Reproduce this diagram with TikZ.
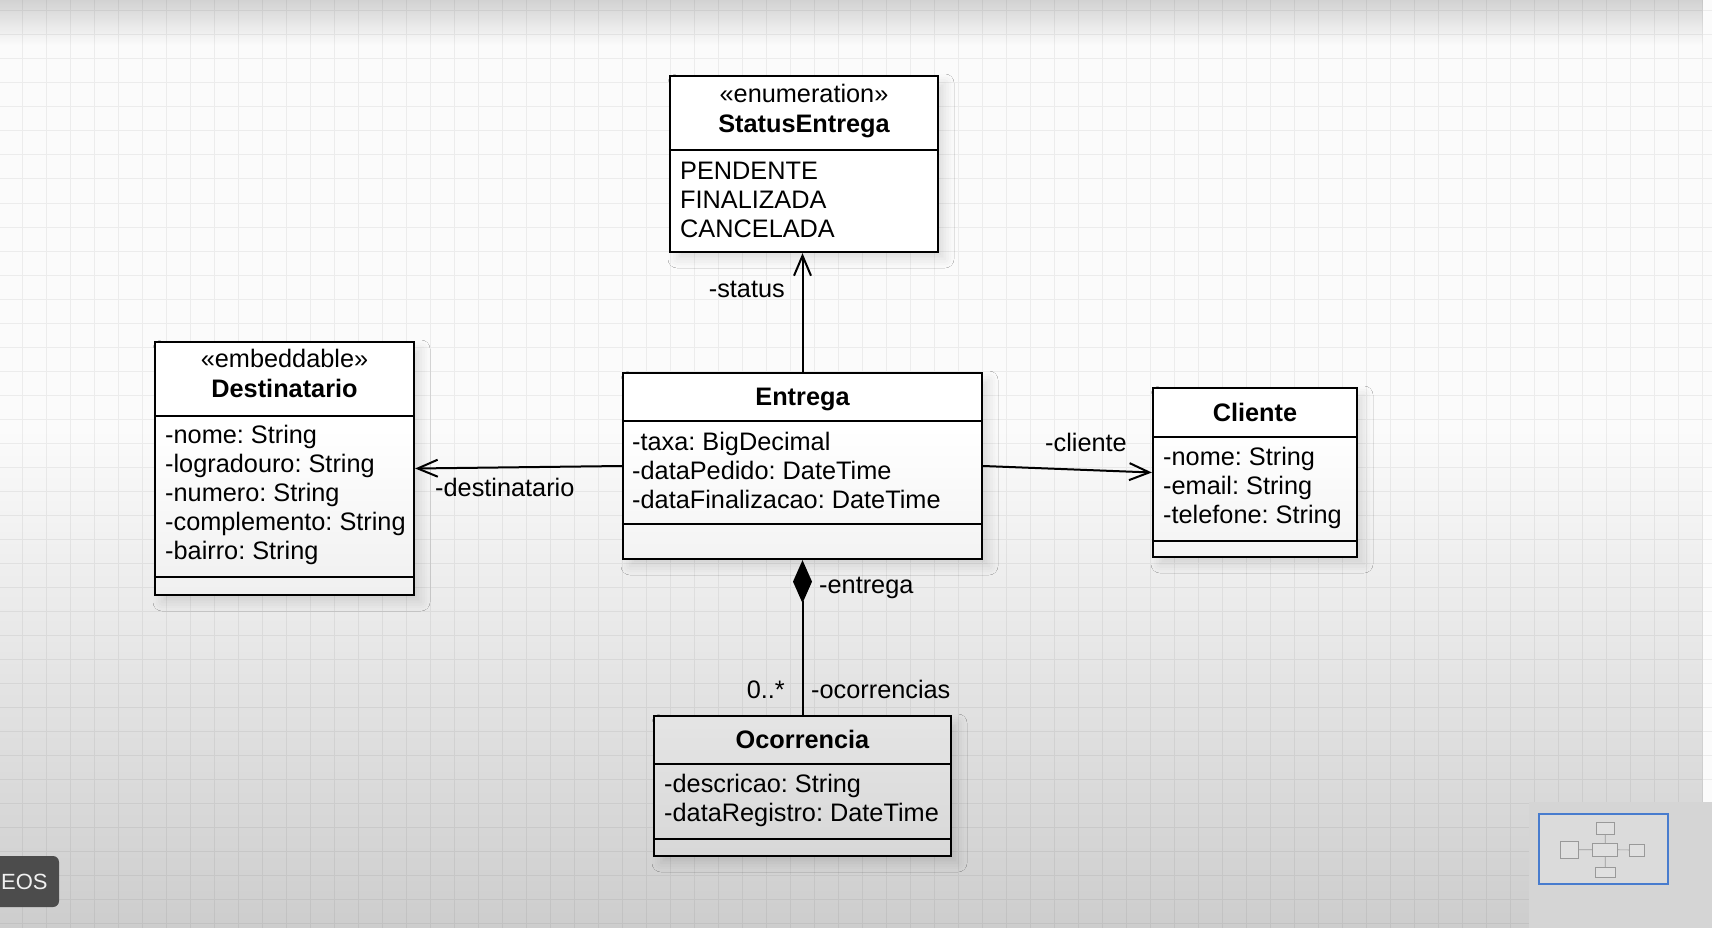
\documentclass[tikz,border=0pt]{standalone}
\usepackage{fontspec}
\setmainfont{Liberation Sans}
\usetikzlibrary{arrows.meta, shadows.blur, fadings}
\definecolor{paper}{RGB}{251,251,251}
\definecolor{gridgray}{RGB}{236,236,236}
\definecolor{eosgray}{RGB}{76,76,76}
\definecolor{minigray}{RGB}{213,213,213}
\definecolor{miniblue}{RGB}{72,124,206}
\frenchspacing

\tikzset{
  gridline/.style={gridgray, line width=1pt},
  classbox/.style={draw, line width=2.3pt, fill=white, inner sep=0pt,
    blur shadow={shadow xshift=7pt, shadow yshift=-7pt, shadow blur radius=9pt, shadow opacity=12}},
  divider/.style={line width=2pt},
  stereo/.style={anchor=base, inner sep=0pt},
  title/.style={anchor=base, inner sep=0pt, font=\fontsize{25.3}{29}\selectfont\bfseries},
  member/.style={anchor=base west, inner sep=0pt},
  role/.style={anchor=base west, inner sep=0pt},
  assoc/.style={line width=2pt, -{Straight Barb[length=20pt, width=17pt]}},
  compo/.style={line width=2pt, {Diamond[length=43pt, width=19pt]}-},
  minibox/.style={draw=gray!80, fill=white!88!black, line width=0.6pt}
}

\begin{document}
\begin{tikzpicture}[x=1pt, y=-1pt, font=\fontsize{25.3}{29}\selectfont]
\useasboundingbox (0,0) rectangle (1712,928);

%background
\fill[paper] (0,0) rectangle (1712,928);
\foreach \gx in {22,46,...,1702}
  \draw[gridline] (\gx,0) -- (\gx,928);
\foreach \gy in {11,35,...,923}
  \draw[gridline] (0,\gy) -- (1712,\gy);

%StatusEntrega
\node[classbox, minimum width=268pt, minimum height=176pt] (status) at (804,164) {};
\draw[divider] (status.west |- 0,150) -- (status.east |- 0,150);
\node[stereo] (status-st) at (804,103) {«enumeration»};
\node[title] (status-t) at (804,133) {StatusEntrega};
\foreach \m [count=\i] in {PENDENTE, FINALIZADA, CANCELADA}
  \node[member] (status-m\i) at (680,150+29*\i) {\m};

%Destinatario
\node[classbox, minimum width=259pt, minimum height=253pt] (destinatario) at (284.5,468.5) {};
\draw[divider] (destinatario.west |- 0,416) -- (destinatario.east |- 0,416);
\draw[divider] (destinatario.west |- 0,577) -- (destinatario.east |- 0,577);
\node[stereo] (destinatario-st) at (284.5,367) {«embeddable»};
\node[title] (destinatario-t) at (284.5,397) {Destinatario};
\foreach \m [count=\i] in {-nome: String, -logradouro: String, -numero: String, -complemento: String, -bairro: String}
  \node[member] (destinatario-m\i) at (165,414+29*\i) {\m};

%Entrega
\node[classbox, minimum width=359pt, minimum height=186pt] (entrega) at (802.5,466) {};
\draw[divider] (entrega.west |- 0,421) -- (entrega.east |- 0,421);
\draw[divider] (entrega.west |- 0,524) -- (entrega.east |- 0,524);
\node[title] (entrega-t) at (802.5,405) {Entrega};
\foreach \m [count=\i] in {-taxa: BigDecimal, -dataPedido: DateTime, -dataFinalizacao: DateTime}
  \node[member] (entrega-m\i) at (632,421+29*\i) {\m};

%Cliente
\node[classbox, minimum width=204pt, minimum height=169pt] (cliente) at (1255,472.5) {};
\draw[divider] (cliente.west |- 0,437) -- (cliente.east |- 0,437);
\draw[divider] (cliente.west |- 0,541) -- (cliente.east |- 0,541);
\node[title] (cliente-t) at (1255,421) {Cliente};
\foreach \m [count=\i] in {-nome: String, -email: String, -telefone: String}
  \node[member] (cliente-m\i) at (1163,436+29*\i) {\m};

%Ocorrencia
\node[classbox, minimum width=297pt, minimum height=140pt] (ocorrencia) at (802.5,786) {};
\draw[divider] (ocorrencia.west |- 0,764) -- (ocorrencia.east |- 0,764);
\draw[divider] (ocorrencia.west |- 0,839) -- (ocorrencia.east |- 0,839);
\node[title] (ocorrencia-t) at (802.5,748) {Ocorrencia};
\foreach \m [count=\i] in {-descricao: String, -dataRegistro: DateTime}
  \node[member] (ocorrencia-m\i) at (664,763+29*\i) {\m};

%associations
\draw[assoc] (entrega.north) -- (entrega.north |- status.south);
\draw[assoc] (entrega.west) -- (destinatario.east);
\draw[assoc] (entrega.east) -- (cliente.west);
\draw[compo] (entrega.south) -- (ocorrencia.north);

\node[role, anchor=base east] (status-r) at (785,297) {-status};
\node[role] (destinatario-r) at (435,496) {-destinatario};
\node[role] (cliente-r) at (1045,451) {-cliente};
\node[role] (entrega-r) at (819,593) {-entrega};
\node[role, anchor=base east] (ocorrencia-mult) at (785,698) {0..*};
\node[role] (ocorrencia-r) at (811,698) {-ocorrencias};

%video shading
\fill[black, path fading=south, fill opacity=0.16] (0,0) rectangle (1712,45);
\fill[black, path fading=north, fill opacity=0.18] (0,430) rectangle (1712,928);

%player overlays
\fill[eosgray, rounded corners=6pt] (-12,856) rectangle (59,907);
\node[anchor=base west, inner sep=0pt, text=white!94!black, font=\fontsize{22}{26}\selectfont] (eos) at (1,889) {EOS};

\fill[minigray] (1529,802) rectangle (1712,928);
\draw[miniblue, line width=2pt, fill=white!86!black] (1539,814) rectangle (1668,884);
\begin{scope}[shift={(1549,817)}, scale=0.07]
  \foreach \bx/\by/\ex/\ey in {670/76/938/252, 155/342/414/595, 623/373/982/559, 1153/388/1357/557, 654/716/951/856}
    \draw[minibox] (\bx,\by) rectangle (\ex,\ey);
  \draw[gray!80, line width=0.6pt] (803,252) -- (803,373) (414,467) -- (623,467) (982,468) -- (1153,471) (803,559) -- (803,716);
\end{scope}
\end{tikzpicture}
\end{document}
